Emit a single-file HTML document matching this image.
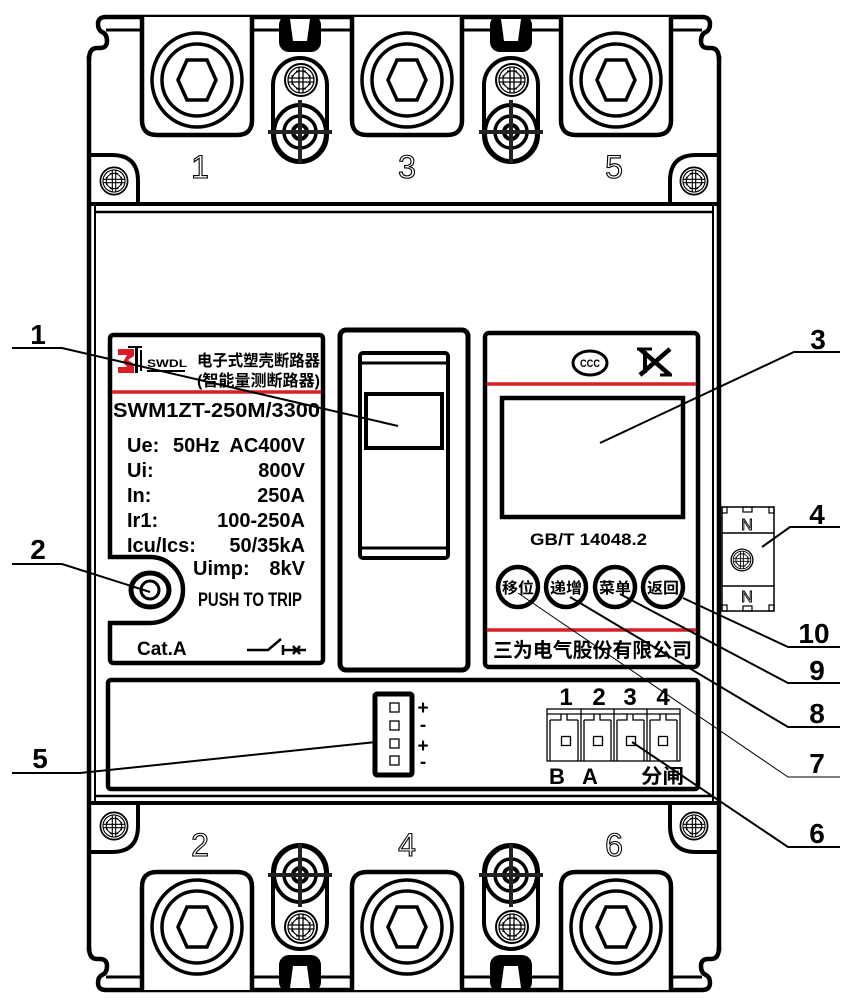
<!DOCTYPE html>
<html><head><meta charset="utf-8">
<style>
html,body{margin:0;padding:0;background:#fff;}
svg{display:block;}
text{font-family:"Liberation Sans","Noto Sans CJK SC",sans-serif;}
</style></head><body>
<svg width="853" height="1005" viewBox="0 0 853 1005" xmlns="http://www.w3.org/2000/svg">
<defs>
 <g id="scr">
  <circle r="16" fill="#fff" stroke="#000" stroke-width="2"/>
  <circle r="13" fill="none" stroke="#000" stroke-width="1.3"/>
  <circle r="9" fill="none" stroke="#000" stroke-width="1.2"/>
  <path d="M-13,-2 H13 M-13,2 H13 M-2,-13 V13 M2,-13 V13" stroke="#000" stroke-width="1.3" fill="none"/>
  <path d="M-9,-5 V5 M9,-5 V5 M-5,-9 H5 M-5,9 H5" stroke="#000" stroke-width="1" fill="none"/>
 </g>
 <g id="term">
  <ellipse rx="45" ry="47" fill="none" stroke="#000" stroke-width="3.5"/>
  <ellipse rx="35" ry="36" fill="none" stroke="#000" stroke-width="3.5"/>
  <polygon points="-19,0 -10,-20 10,-20 19,0 10,20 -10,20" fill="none" stroke="#000" stroke-width="3.5"/>
 </g>
 <g id="asm">
  <rect x="-21" y="15" width="42" height="37" rx="10" fill="#000"/>
  <polygon points="-10,19 10,19 7,41 -7,41" fill="#fff"/>
  <rect x="-27" y="58" width="54" height="104" rx="27" fill="#fff" stroke="#000" stroke-width="4"/>
  <ellipse cx="0" cy="133" rx="26" ry="28" fill="none" stroke="#000" stroke-width="4"/>
  <circle cx="0" cy="132" r="16" fill="none" stroke="#000" stroke-width="3.5"/>
  <circle cx="0" cy="132" r="7" fill="none" stroke="#000" stroke-width="4"/>
  <path d="M-32,132 H32 M0,100 V163" stroke="#222" stroke-width="4"/>
  <use href="#scr" x="1" y="80"/>
 </g>
 <g id="cover">
  <path d="M89,60 Q89,48 97,48 L100,48 Q107,48 107,41 Q107,34 102,32 Q98,30 98,24 Q98,17 106,17 L702,17 Q710,17 710,24 Q710,30 706,32 Q701,34 701,41 Q701,48 708,48 L711,48 Q719,48 719,60" fill="none" stroke="#000" stroke-width="4.5"/>
  <path d="M106,30 H142 M252,30 H279 M321,30 H352 M462,30 H490 M532,30 H561 M671,30 H702" stroke="#000" stroke-width="3"/>
  <path d="M142,17 V120 Q142,135 157,135 H237 Q252,135 252,120 V17" fill="#fff" stroke="#000" stroke-width="4.5"/>
  <path d="M352,17 V120 Q352,135 367,135 H447 Q462,135 462,120 V17" fill="#fff" stroke="#000" stroke-width="4.5"/>
  <path d="M561,17 V120 Q561,135 576,135 H656 Q671,135 671,120 V17" fill="#fff" stroke="#000" stroke-width="4.5"/>
  <use href="#term" x="197" y="80"/>
  <use href="#term" x="407" y="80"/>
  <use href="#term" x="616" y="80"/>
  <use href="#asm" x="300" y="0"/>
  <use href="#asm" x="511" y="0"/>
  <path d="M89,155 H112 Q138,155 138,181 V204" fill="none" stroke="#000" stroke-width="4"/>
  <path d="M719,155 H696 Q670,155 670,181 V204" fill="none" stroke="#000" stroke-width="4"/>
  <use href="#scr" transform="translate(114,181) scale(0.85)"/>
  <use href="#scr" transform="translate(694,181) scale(0.85)"/>
 </g>
</defs>

<!-- body outline -->
<path d="M89,56 V951" stroke="#000" stroke-width="4.5"/>
<path d="M719,56 V951" stroke="#000" stroke-width="4.5"/>
<path d="M95,204 V803 M713,204 V803" stroke="#000" stroke-width="2"/>

<use href="#cover"/>
<use href="#cover" transform="translate(0,1007) scale(1,-1)"/>

<!-- separators -->
<path d="M89,204 H719 M89,803 H719" stroke="#000" stroke-width="4"/>
<path d="M95,212 H713 M95,796 H713" stroke="#000" stroke-width="2.5"/>

<!-- terminal labels -->
<g font-size="32" text-anchor="middle" fill="#fff" stroke="#000" stroke-width="1.1">
 <text x="200" y="178">1</text>
 <text x="407" y="178">3</text>
 <text x="614" y="178">5</text>
 <text x="200" y="856">2</text>
 <text x="407" y="856">4</text>
 <text x="614" y="856">6</text>
</g>

<!-- left label panel -->
<path d="M110,557 V339 Q110,335 114,335 H319 Q323,335 323,339 V659 Q323,663 319,663 H114 Q110,663 110,659 V623 H150 A33,33 0 0 0 150,557 Z" fill="none" stroke="#000" stroke-width="4.5"/>
<ellipse cx="150" cy="590" rx="19" ry="17" fill="none" stroke="#000" stroke-width="5"/>
<circle cx="150" cy="590" r="9" fill="none" stroke="#000" stroke-width="3"/>

<!-- logo -->
<path d="M118,349 H134 V356 L128,360 L134,364 V373 H118 V367 H127 L123,362 L127,355 H118 Z" fill="#d81e26"/>
<rect x="135" y="348" width="3" height="25" fill="#000"/>
<rect x="140" y="350" width="2" height="21" fill="#000"/>
<rect x="128" y="346" width="14" height="2" fill="#000"/>
<text x="147" y="367" font-size="11" font-weight="bold" textLength="40" lengthAdjust="spacingAndGlyphs">SWDL</text>
<rect x="147" y="370" width="38" height="2" fill="#000"/>
<text x="197" y="366" font-size="16" font-weight="bold" textLength="123" lengthAdjust="spacingAndGlyphs">电子式塑壳断路器</text>
<text x="197" y="386" font-size="16" font-weight="bold" textLength="123" lengthAdjust="spacingAndGlyphs">(智能量测断路器)</text>
<path d="M112,392 H321" stroke="#d81e26" stroke-width="3.5"/>
<text x="113" y="417" font-size="20" font-weight="bold" textLength="207" lengthAdjust="spacingAndGlyphs">SWM1ZT-250M/3300</text>
<g font-size="20" font-weight="bold">
 <text x="127" y="452">Ue:</text>
 <text x="173" y="452">50Hz</text>
 <text x="305" y="452" text-anchor="end">AC400V</text>
 <text x="127" y="477">Ui:</text>
 <text x="305" y="477" text-anchor="end">800V</text>
 <text x="127" y="502">In:</text>
 <text x="305" y="502" text-anchor="end">250A</text>
 <text x="127" y="527">Ir1:</text>
 <text x="305" y="527" text-anchor="end">100-250A</text>
 <text x="127" y="552">Icu/Ics:</text>
 <text x="305" y="552" text-anchor="end">50/35kA</text>
 <text x="193" y="575">Uimp:</text>
 <text x="305" y="575" text-anchor="end">8kV</text>
 <text x="198" y="606" font-size="19" textLength="104" lengthAdjust="spacingAndGlyphs">PUSH TO TRIP</text>
 <text x="137" y="655" font-size="19">Cat.A</text>
</g>
<path d="M247,650 H268 L281,639 M283,645 V655 M283,650 H306 M293,646 L300,654 M300,646 L293,654" fill="none" stroke="#000" stroke-width="2.5"/>

<!-- switch -->
<rect x="340" y="330" width="128" height="340" rx="6" fill="none" stroke="#000" stroke-width="5"/>
<rect x="360" y="353" width="88" height="205" rx="3" fill="none" stroke="#000" stroke-width="4"/>
<path d="M360,363 H448 M360,548 H448" stroke="#000" stroke-width="3"/>
<rect x="366" y="394" width="76" height="54" fill="none" stroke="#000" stroke-width="4"/>

<!-- right panel -->
<rect x="485" y="333" width="213" height="334" rx="4" fill="none" stroke="#000" stroke-width="4.5"/>
<path d="M487,384 H696 M487,630 H696" stroke="#d81e26" stroke-width="3.5"/>
<ellipse cx="590" cy="363" rx="17" ry="12" fill="none" stroke="#000" stroke-width="3"/>
<text x="590" y="367" font-size="11" font-weight="bold" text-anchor="middle" textLength="20" lengthAdjust="spacingAndGlyphs">CCC</text>
<path d="M640,349 L670,375 M670,349 L640,375" stroke="#000" stroke-width="4.5"/>
<path d="M645,351 V373" stroke="#000" stroke-width="4"/>
<path d="M637,349 H652 M660,375 H672" stroke="#000" stroke-width="3"/>
<rect x="502" y="398" width="181" height="119" fill="none" stroke="#000" stroke-width="4.5"/>
<text x="530" y="545" font-size="16.5" font-weight="bold" textLength="117" lengthAdjust="spacingAndGlyphs">GB/T 14048.2</text>
<g fill="none" stroke="#000" stroke-width="4.5">
 <circle cx="518" cy="587" r="20"/>
 <circle cx="566" cy="587" r="20"/>
 <circle cx="615" cy="587" r="20"/>
 <circle cx="663" cy="587" r="20"/>
</g>
<g font-size="15" font-weight="bold" text-anchor="middle">
 <text x="518" y="593" textLength="32" lengthAdjust="spacingAndGlyphs">移位</text>
 <text x="566" y="593" textLength="32" lengthAdjust="spacingAndGlyphs">递增</text>
 <text x="615" y="593" textLength="32" lengthAdjust="spacingAndGlyphs">菜单</text>
 <text x="663" y="593" textLength="32" lengthAdjust="spacingAndGlyphs">返回</text>
</g>
<text x="493" y="657" font-size="20" font-weight="bold" textLength="199" lengthAdjust="spacingAndGlyphs">三为电气股份有限公司</text>

<!-- bottom module -->
<rect x="108" y="680" width="590" height="109" rx="3" fill="none" stroke="#000" stroke-width="4.5"/>
<rect x="375" y="694" width="37" height="81" rx="2" fill="none" stroke="#000" stroke-width="5"/>
<g fill="none" stroke="#000" stroke-width="1.3">
 <rect x="390" y="703" width="9" height="9"/>
 <rect x="390" y="721" width="9" height="9"/>
 <rect x="390" y="739" width="9" height="9"/>
 <rect x="390" y="756" width="9" height="9"/>
</g>
<g font-size="19" font-weight="bold" text-anchor="middle">
 <text x="423" y="714">+</text>
 <text x="423" y="731">-</text>
 <text x="423" y="752">+</text>
 <text x="423" y="768">-</text>
</g>
<g fill="none" stroke="#000" stroke-width="1.3">
 <rect x="547" y="709" width="133" height="52"/>
 <path d="M581,709 V761 M614,709 V761 M647,709 V761"/>
 <path d="M547,714 H680"/>
 <path d="M550,720 H561 V714 M567,714 V720 H578 M584,720 H594 V714 M600,714 V720 H611 M617,720 H627 V714 M633,714 V720 H644 M650,720 H660 V714 M666,714 V720 H677"/>
 <path d="M550,720 V761 M578,720 V761 M584,720 V761 M611,720 V761 M617,720 V761 M644,720 V761 M650,720 V761 M677,720 V761"/>
 <rect x="561.5" y="736.5" width="9" height="9"/>
 <rect x="593.5" y="736.5" width="9" height="9"/>
 <rect x="626.5" y="736.5" width="9" height="9"/>
 <rect x="658.5" y="736.5" width="9" height="9"/>
</g>
<g font-size="24" font-weight="bold" text-anchor="middle">
 <text x="566" y="705">1</text>
 <text x="599" y="705">2</text>
 <text x="630" y="705">3</text>
 <text x="663" y="705">4</text>
 <text x="557" y="784" font-size="22">B</text>
 <text x="590" y="784" font-size="22">A</text>
</g>
<text x="641" y="783" font-size="20" font-weight="bold" textLength="43" lengthAdjust="spacingAndGlyphs">分闸</text>

<!-- N terminal -->
<rect x="722" y="507" width="52" height="104" fill="#fff" stroke="#000" stroke-width="1.5"/>
<path d="M722,533 H774 M722,586 H774" stroke="#000" stroke-width="1.5"/>
<g fill="none" stroke="#000" stroke-width="1.2">
 <rect x="722" y="507" width="5" height="6"/>
 <rect x="769" y="507" width="5" height="6"/>
 <rect x="743" y="507" width="9" height="5"/>
 <rect x="722" y="605" width="5" height="6"/>
 <rect x="769" y="605" width="5" height="6"/>
 <rect x="743" y="606" width="9" height="5"/>
</g>
<g font-size="16" text-anchor="middle" fill="#fff" stroke="#000" stroke-width="0.9">
 <text x="747" y="530">N</text>
 <text x="747" y="602">N</text>
</g>
<use href="#scr" transform="translate(742,560) scale(0.68)"/>

<!-- callout lines -->
<g fill="none" stroke="#000" stroke-width="2">
 <path d="M12,348 H62 L398,426"/>
 <path d="M12,564 H62 L150,592"/>
 <path d="M12,773 H80 L376,742"/>
 <path d="M840,352 H794 L600,443"/>
 <path d="M840,527 H790 L762,547"/>
 <path d="M840,647 H788 L683,598"/>
 <path d="M840,683 H788 L620,594"/>
 <path d="M840,727 H788 L570,597"/>
 <path d="M840,847 H788 L632,742"/>
</g>
<path d="M840,777 H788 L518,593" fill="none" stroke="#000" stroke-width="1"/>

<!-- callout numbers -->
<g font-size="28" font-weight="bold" text-anchor="middle">
 <text x="38" y="344">1</text>
 <text x="38" y="559">2</text>
 <text x="40" y="768">5</text>
 <text x="818" y="349">3</text>
 <text x="817" y="524">4</text>
 <text x="814" y="643">10</text>
 <text x="817" y="680">9</text>
 <text x="817" y="723">8</text>
 <text x="817" y="773">7</text>
 <text x="817" y="843">6</text>
</g>
</svg>
</body></html>
